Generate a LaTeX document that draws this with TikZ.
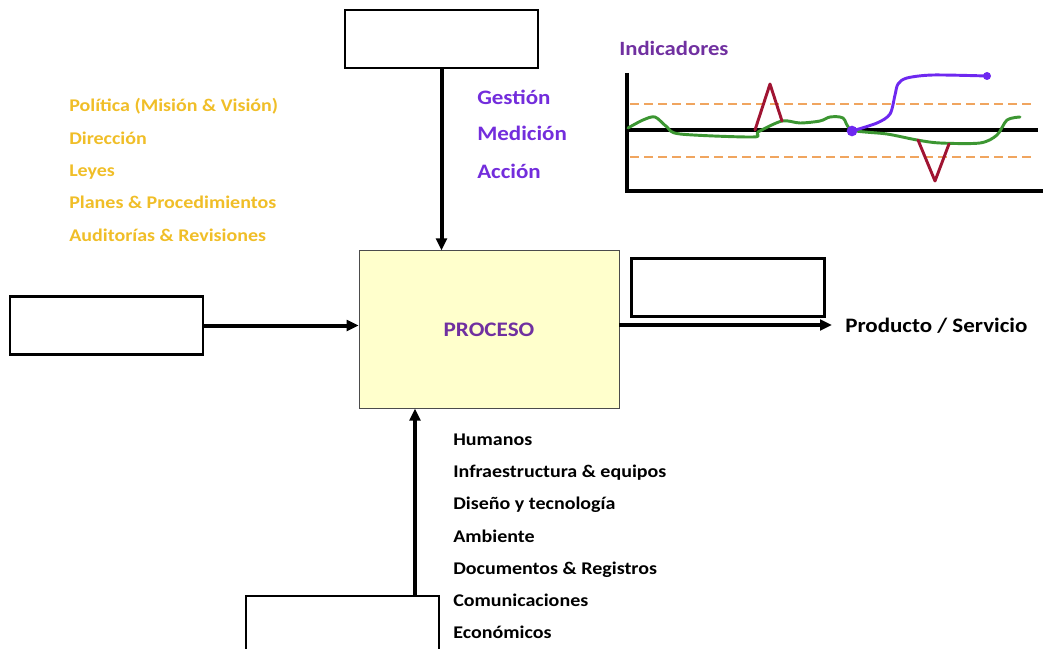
\documentclass[tikz,border=0pt]{standalone}
\usepackage{fontspec}
\setmainfont{Carlito}[FakeStretch=1.12]
\usepackage{tikz}
\usetikzlibrary{arrows.meta,positioning,calc}
\definecolor{ctrlyellow}{RGB}{240,190,40}
\definecolor{ctrlviolet}{RGB}{115,45,220}
\definecolor{procpurple}{RGB}{112,48,160}
\definecolor{procfill}{RGB}{255,255,204}
\definecolor{kpigreen}{RGB}{60,150,50}
\definecolor{kpired}{RGB}{160,20,50}
\definecolor{kpiviolet}{RGB}{110,40,240}
\definecolor{limorange}{RGB}{240,165,95}
\tikzset{
  % todos los textos en negrita
  every node/.append style={font=\bfseries},
  % caja vacía
  box/.style={
    draw=black,
    line width=1.8pt,
    minimum width=145pt,
    minimum height=43.5pt,
    inner sep=0pt
  },
  % caja del proceso
  proc/.style={
    draw=black!70,
    line width=0.6pt,
    fill=procfill,
    minimum width=195pt,
    minimum height=118pt,
    text=procpurple,
    font=\fontsize{15.5}{18}\selectfont\bfseries
  },
  % listas de texto
  lst/.style={anchor=base west, inner sep=0pt, font=\fontsize{13.4}{15}\selectfont\bfseries},
  big/.style={font=\fontsize{15.4}{18}\selectfont\bfseries},
  % flechas
  arr/.style={-{Triangle[length=9pt,width=8pt]}, line width=3pt, black},
  % curvas del indicador
  kpi/.style={line width=2.2pt, line cap=round, line join=round},
  lim/.style={limorange, line width=2pt, dash pattern=on 7pt off 3.5pt},
}
\begin{document}
\begin{tikzpicture}[x=0.75pt, y=-0.75pt]
    \useasboundingbox (0,0) rectangle (1043,649);

    % Cajas
    \node[proc] (proceso) at (489,329.5) {PROCESO};
    \node[box] (top) at (441.5,39) {};
    \node[box] (left) at (106.5,325.5) {};
    \node[box] (right) at (728,287.5) {};
    \node[box] (bottom) at (342.5,625) {};

    % Flechas
    \draw[arr] (top.south) -- (top.south |- proceso.north);
    \draw[arr] (left.east) -- (left.east -| proceso.west);
    \node[lst, big] (prod) at (845,332) {Producto / Servicio};
    \coordinate (outtip) at (832,325);
    \draw[arr] (proceso.east |- outtip) -- (outtip);
    \coordinate (inB) at (415,596);
    \draw[arr] (inB) -- (inB |- proceso.south);

    % Controles
    \node[lst, text=ctrlyellow] (c1) at (69,112) {Política (Misión \& Visión)};
    \node[lst, text=ctrlyellow] (c2) at (69,145) {Dirección};
    \node[lst, text=ctrlyellow] (c3) at (69,177) {Leyes};
    \node[lst, text=ctrlyellow] (c4) at (69,209) {Planes \& Procedimientos};
    \node[lst, text=ctrlyellow] (c5) at (69,242) {Auditorías \& Revisiones};

    \node[lst, big, text=ctrlviolet] (g1) at (477,105) {Gestión};
    \node[lst, big, text=ctrlviolet] (g2) at (477,141) {Medición};
    \node[lst, big, text=ctrlviolet] (g3) at (477,179) {Acción};

    % Recursos
    \node[lst] (r1) at (453,445) {Humanos};
    \node[lst] (r2) at (453,477) {Infraestructura \& equipos};
    \node[lst] (r3) at (453,509) {Diseño y tecnología};
    \node[lst] (r4) at (453,542) {Ambiente};
    \node[lst] (r5) at (453,574) {Documentos \& Registros};
    \node[lst] (r6) at (453,606) {Comunicaciones};
    \node[lst] (r7) at (453,638) {Económicos};

    % Indicadores
    \node[lst, text=procpurple, font=\fontsize{15.2}{18}\selectfont\bfseries] (ind) at (619,56) {Indicadores};
    \draw[lim] (630,104) -- (1033,104);
    \draw[lim] (630,157) -- (1033,157);
    \draw[line width=2.6pt] (627,73) -- (627,191) -- (1043,191);
    \draw[line width=2.6pt] (627,130) -- (1038,130);
    \draw[kpi, kpigreen] plot[smooth, tension=0.5] coordinates {
      (628,128) (643,120) (655,117) (667,127) (680,134) (753,137) (758,132)
      (782,121) (800,123) (820,121) (830,117) (843,118) (852,130) (887,134)
      (917,140) (940,143) (980,143) (997,135) (1007,120) (1020,117)};
    \draw[kpi, kpired] (755,130) -- (770,84) -- (782,121);
    \draw[kpi, kpired] (918,140) -- (935,181) -- (949,144);
    \draw[kpi, kpiviolet] plot[smooth, tension=0.5] coordinates {
      (852,131) (877,123) (890,114) (895,95) (898,84) (907,78) (933,75) (987,76)};
    \fill[kpiviolet] (852,131) circle (4pt);
    \fill[kpiviolet] (987,76) circle (3pt);
\end{tikzpicture}
\end{document}
